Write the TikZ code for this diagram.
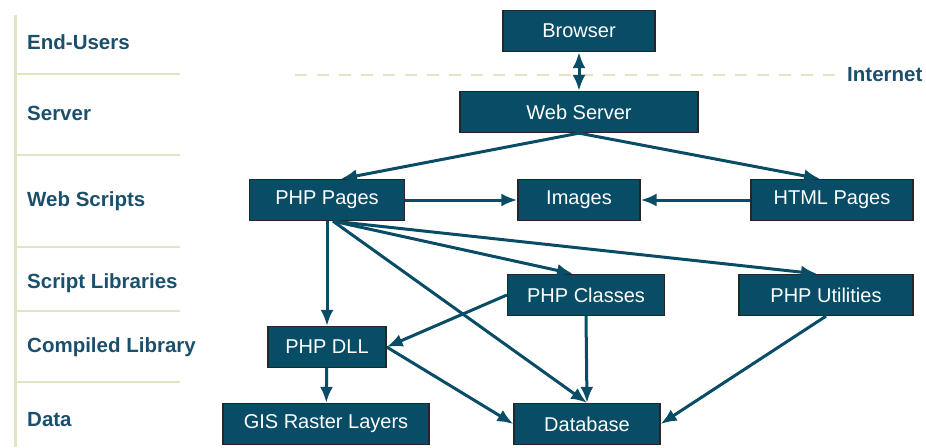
\documentclass[tikz,border=0pt]{standalone}
\usepackage{fontspec}
\setmainfont{Liberation Sans}
\usetikzlibrary{arrows.meta,positioning}
\definecolor{boxteal}{RGB}{8,76,102}
\definecolor{tierblue}{RGB}{26,80,110}
\definecolor{tierline}{RGB}{226,228,196}

\begin{document}
\begin{tikzpicture}[x=1pt, y=-1pt, >={Latex[length=16pt,width=13pt]},
    node distance=88pt, on grid,
    box/.style={draw=black!85, line width=1.3pt, fill=boxteal, text=white,
      font=\fontsize{20}{24}\selectfont, minimum height=41pt, inner sep=0pt},
    tier/.style={anchor=west, inner sep=0pt, text=tierblue, font=\fontsize{20.5}{24}\selectfont\bfseries},
    link/.style={every edge/.style={draw=boxteal, line width=3pt}}]
        \useasboundingbox (0,0) rectangle (926,447);
        % tiers on the left
        \draw[tierline, line width=3pt] (15,15) -- (15,447);
        \foreach \y in {74,155,247,311,382}
            \draw[tierline, line width=2.5pt] (15,\y) -- (180,\y);
        \draw[tierline, line width=2.5pt, dash pattern=on 12pt off 10pt] (295,75) -- (835,75);
        \node[tier] (t1) at (27,42) {End-Users};
        \node[tier] (t2) at (27,113) {Server};
        \node[tier] (t3) at (27,201) {Web Scripts};
        \node[tier] (t4) at (27,283) {Script Libraries};
        \node[tier] (t5) at (27,347) {Compiled Library};
        \node[tier] (t6) at (27,420) {Data};
        \node[tier] (inet) at (847,75) {Internet};
        % boxes
        \node[box, minimum width=152pt] (browser) at (579,31) {Browser};
        \node[box, minimum width=238pt] (websrv) [below=81pt of browser] {Web Server};
        \node[box, minimum width=122pt] (images) [below=of websrv] {Images};
        \node[box, minimum width=155pt] (phppages) at (327,200) {PHP Pages};
        \node[box, minimum width=162pt] (htmlpages) at (832,200) {HTML Pages};
        \node[box, minimum width=157pt] (classes) at (586,295) {PHP Classes};
        \node[box, minimum width=174pt] (utils) at (826,295) {PHP Utilities};
        \node[box, minimum width=118pt] (dll) at (327,347) {PHP DLL};
        \node[box, minimum width=206pt] (gis) at (326,424) {GIS Raster Layers};
        \node[box, minimum width=146pt] (db) at (587,424) {Database};
        \path[->, link]
        (browser) edge [<->] (websrv)
        (websrv.south) edge ([xshift=14pt]phppages.north)
        (websrv.south) edge ([xshift=-12pt]htmlpages.north)
        (phppages) edge (images)
        (htmlpages) edge (images)
        (phppages.south) edge (dll.north)
        ([xshift=6pt]phppages.south) edge ([xshift=-13pt]classes.north)
        ([xshift=6pt]phppages.south) edge ([xshift=-9pt]utils.north)
        ([xshift=6pt]phppages.south) edge (db.north)
        (classes.west) edge (dll.east)
        (classes.south) edge (db.north)
        (dll.east) edge (db.west)
        (dll) edge (gis)
        (utils.south) edge (db.east)
        ;
    \end{tikzpicture}
\end{document}
